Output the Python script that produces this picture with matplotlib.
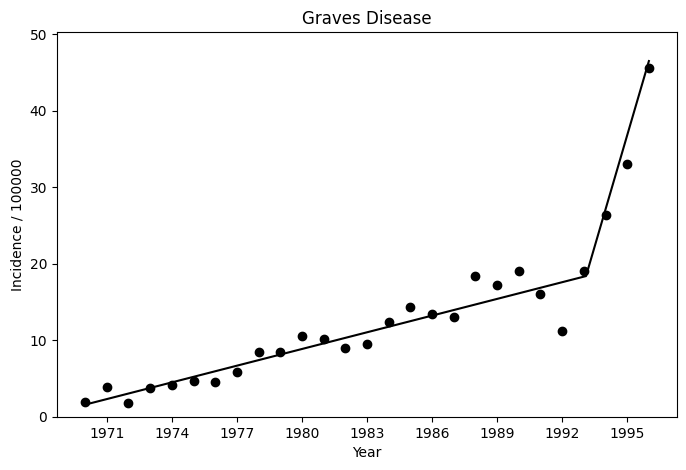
import matplotlib
matplotlib.use("Agg")
import matplotlib.pyplot as plt

years = list(range(1970, 1997))
incidence = [1.96, 3.9, 1.8, 3.8, 4.2, 4.7, 4.6, 5.9, 8.5, 8.5, 10.6, 10.2, 9.0, 9.5,
             12.4, 14.4, 13.4, 13.1, 18.4, 17.2, 19.1, 16.1, 11.2, 19.1, 26.4, 33.0, 45.6]
fit_x = [1970, 1993.1, 1996]
fit_y = [1.6, 18.4, 46.5]
xticks = [1971, 1974, 1977, 1980, 1983, 1986, 1989, 1992, 1995]

fig = plt.figure(figsize=(6.86, 4.7), dpi=100)
ax = fig.add_axes([0.083, 0.113, 0.904, 0.819])
ax.plot(years, incidence, 'o', color='black')
ax.plot(fit_x, fit_y, '-', color='black')
ax.set_xlim(1968.7, 1997.3)
ax.set_ylim(0, 50.3)
ax.set_xticks(xticks)
ax.set_xlabel("Year")
ax.set_ylabel("Incidence / 100000")
ax.set_title("Graves Disease")
fig.savefig("out.png")
